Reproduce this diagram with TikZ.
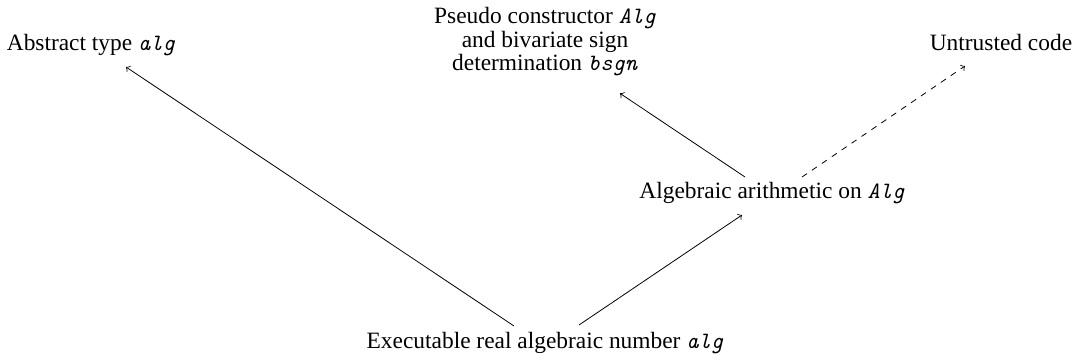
\documentclass[tikz,border=0pt]{standalone}
\usepackage{fontspec}
\setmainfont{Liberation Serif}
\usepackage{tikz}
\usetikzlibrary{calc}

\newcommand{\code}[1]{\texttt{\textit{#1}}}

\begin{document}
\begin{tikzpicture}[x=0.5pt, y=-0.5pt, font=\fontsize{11.7}{11.75}\selectfont,
  every node/.style={inner sep=0pt}]
  \useasboundingbox (0,0) rectangle (1077,360);

  % Nodes
  \node[anchor=base] (abs) at (91,50) {Abstract type \code{alg}};
  \node[anchor=north, align=center] (pseudo) at (545,7)
    {Pseudo constructor \code{Alg}\\ and bivariate sign\\ determination \code{bsgn}};
  \node[anchor=base] (untrusted) at (1001,50) {Untrusted code};
  \node[anchor=base] (arith) at (772,198) {Algebraic arithmetic on \code{Alg}};
  \node[anchor=base] (exec) at (545,348) {Executable real algebraic number \code{alg}};

  % Connectors
  \draw[->] ($(exec.base)+(-31,-22)$) -- ($(abs.base)+(35,17)$);
  \draw[->] ($(exec.base)+(34,-23)$) -- ($(arith.base)+(-30,17)$);
  \draw[->] ($(arith.base)+(-27,-21)$) -- ($(pseudo.south)+(75,17)$);
  \draw[->, dashed] ($(arith.base)+(30,-21)$) -- ($(untrusted.base)+(-36,16)$);
\end{tikzpicture}
\end{document}
